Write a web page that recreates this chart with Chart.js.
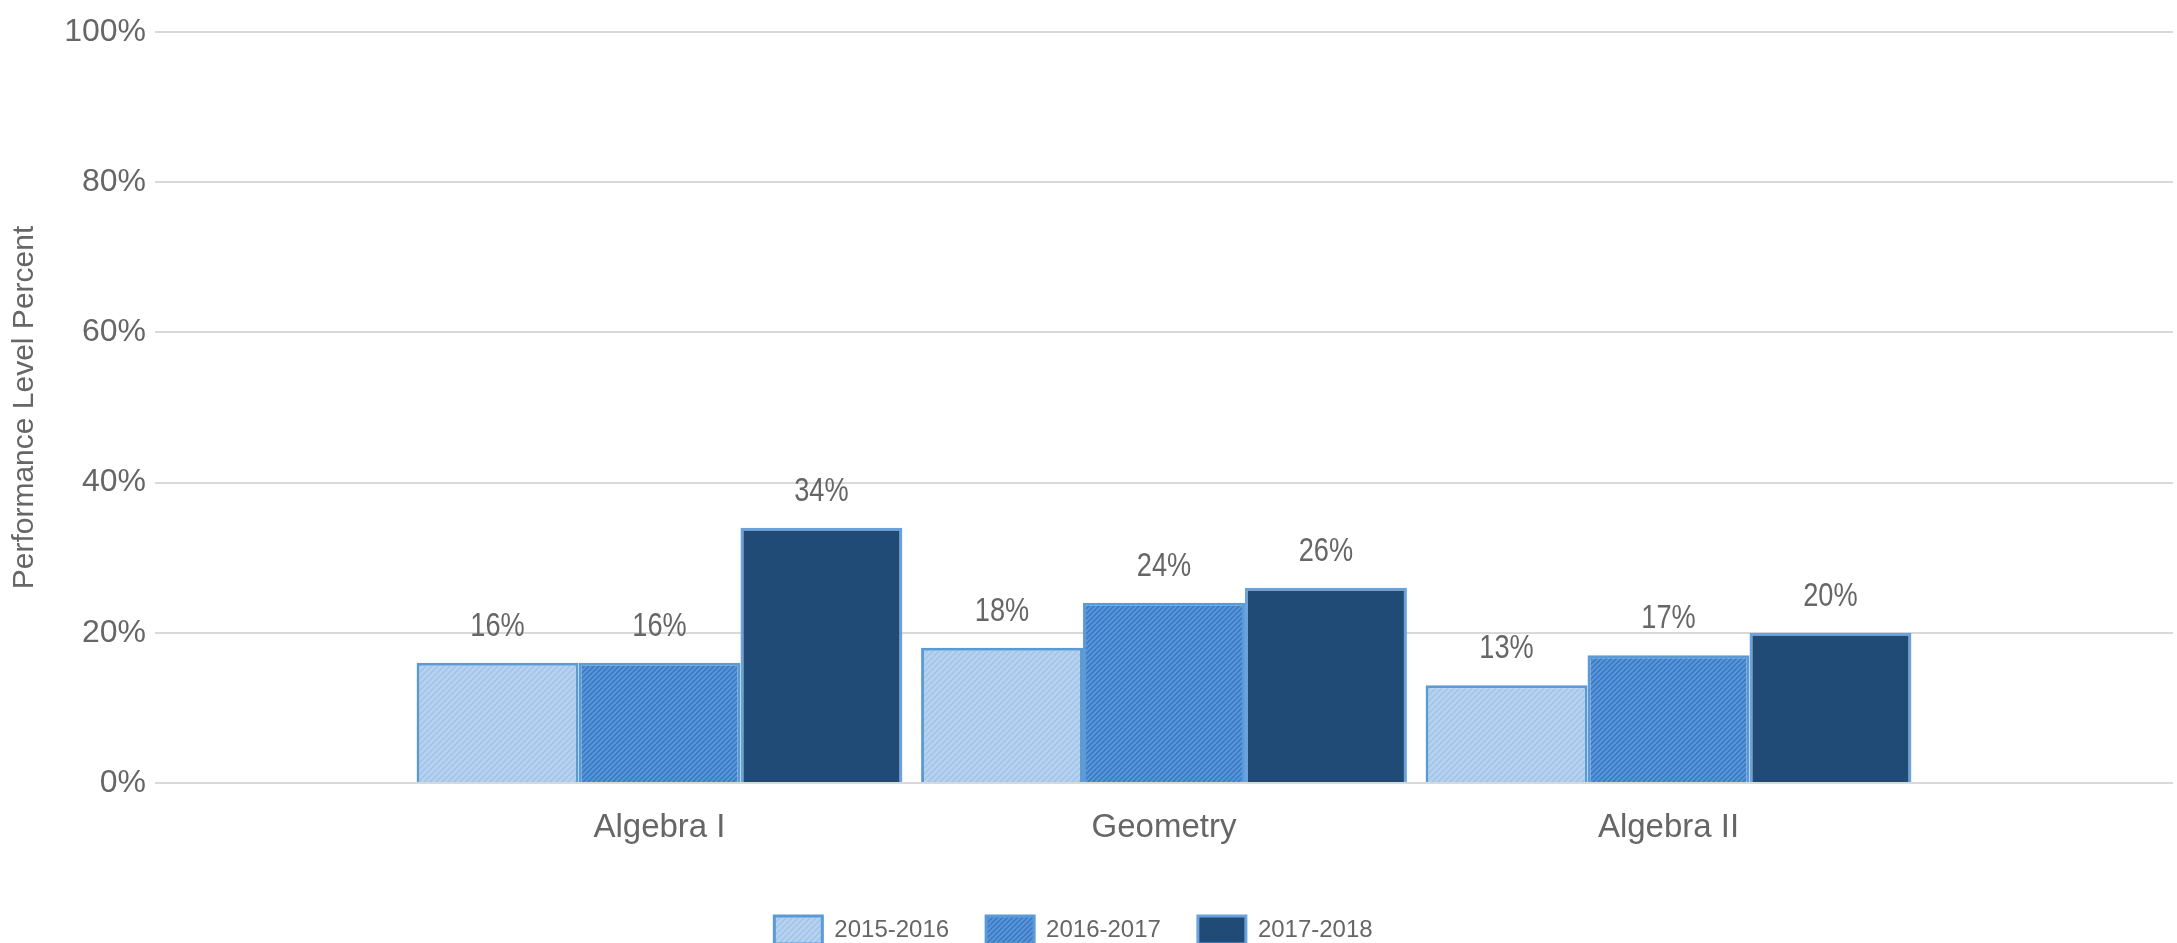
<!DOCTYPE html>
<html>
<head>
<meta charset="utf-8">
<script src="https://cdn.jsdelivr.net/npm/chart.js@4"></script>
<style>
  html, body { margin: 0; padding: 0; background: #fff; overflow: hidden; }
  #wrap { width: 2177px; height: 943px; position: relative; }
</style>
</head>
<body>
<div id="wrap"><canvas id="chart"></canvas></div>
<script>
const CATEGORIES = ['Algebra I', 'Geometry', 'Algebra II'];
const SERIES_NAMES = ['2015-2016', '2016-2017', '2017-2018'];
const VALUES_2015_2016 = [16, 18, 13];
const VALUES_2016_2017 = [16, 24, 17];
const VALUES_2017_2018 = [34, 26, 20];
const Y_TICKS = [0, 20, 40, 60, 80, 100];

const TEXT = '#666666';
const BORDER = '#5b9bd5';
const FONT = '"Liberation Sans", Arial, sans-serif';

// small diagonal hatch tile used as a fill pattern
function hatch(base, line, size) {
  const c = document.createElement('canvas');
  c.width = c.height = size;
  const g = c.getContext('2d');
  g.fillStyle = base;
  g.fillRect(0, 0, size, size);
  g.strokeStyle = line;
  g.lineWidth = 1.4;
  g.beginPath();
  g.moveTo(0, size); g.lineTo(size, 0);
  g.moveTo(-1, 1); g.lineTo(1, -1);
  g.moveTo(size - 1, size + 1); g.lineTo(size + 1, size - 1);
  g.stroke();
  return g.createPattern(c, 'repeat');
}

// the plot has an empty half-slot at each side, so pad the category axis
const pad = (arr) => [null, ...arr, null];

// value labels above the bars (condensed look of the original)
const valueLabels = {
  id: 'valueLabels',
  afterDatasetsDraw(chart) {
    const ctx = chart.ctx;
    ctx.save();
    ctx.fillStyle = TEXT;
    ctx.font = `34px ${FONT}`;
    ctx.textAlign = 'center';
    ctx.textBaseline = 'alphabetic';
    chart.data.datasets.forEach((ds, i) => {
      chart.getDatasetMeta(i).data.forEach((bar, j) => {
        const v = ds.data[j];
        if (v === null || v === undefined) return;
        ctx.save();
        ctx.translate(bar.x, bar.y - 27);
        ctx.scale(0.8, 1);
        ctx.fillText(`${v}%`, 0, 0);
        ctx.restore();
      });
    });
    ctx.restore();
  },
};

// legend sits a little left of the canvas centre in the original
const legendNudge = {
  id: 'legendNudge',
  afterLayout(chart) {
    if (!chart.legend) return;
    chart.legend.left -= 13;
    chart.legend.right -= 13;
  },
};

new Chart(document.getElementById('chart'), {
  type: 'bar',
  data: {
    labels: pad(CATEGORIES).map((c) => c || ''),
    datasets: [
      {
        label: SERIES_NAMES[0],
        data: pad(VALUES_2015_2016),
        backgroundColor: hatch('#b6d2ef', '#9ec2e8', 6),
        borderColor: BORDER,
        borderWidth: 3,
      },
      {
        label: SERIES_NAMES[1],
        data: pad(VALUES_2016_2017),
        backgroundColor: hatch('#5796da', '#3a74bd', 5),
        borderColor: BORDER,
        borderWidth: 3,
      },
      {
        label: SERIES_NAMES[2],
        data: pad(VALUES_2017_2018),
        backgroundColor: '#1f4b76',
        borderColor: '#6aa3db',
        borderWidth: 3,
      },
    ],
  },
  options: {
    responsive: true,
    maintainAspectRatio: false,
    animation: false,
    categoryPercentage: 0.963,
    barPercentage: 1.0,
    layout: { padding: { top: 32, right: 4, left: 0, bottom: -11 } },
    plugins: {
      tooltip: { enabled: false },
      legend: {
        position: 'bottom',
        labels: {
          color: TEXT,
          font: { size: 24, family: FONT },
          boxWidth: 48,
          boxHeight: 28,
          padding: 37,
        },
      },
    },
    scales: {
      x: {
        offset: false,
        grid: { display: false },
        border: { display: false },
        afterFit: (s) => { s.paddingLeft = 0; s.paddingRight = 0; s.height = 96; },
        ticks: {
          color: TEXT,
          padding: 17,
          font: { size: 33, family: FONT },
        },
      },
      y: {
        min: 0,
        max: 100,
        afterBuildTicks: (axis) => { axis.ticks = Y_TICKS.map((v) => ({ value: v })); },
        afterFit: (axis) => { axis.width = 155; },
        grid: { color: '#d9d9d9', lineWidth: 2, drawTicks: false },
        border: { display: false },
        ticks: {
          color: TEXT,
          padding: 9,
          font: { size: 32, family: FONT },
          callback: (v) => `${v}%`,
        },
        title: {
          display: true,
          text: 'Performance Level Percent',
          color: TEXT,
          padding: { top: 7, bottom: 10 },
          font: { size: 30, family: FONT },
        },
      },
    },
  },
  plugins: [valueLabels, legendNudge],
});
</script>
</body>
</html>
